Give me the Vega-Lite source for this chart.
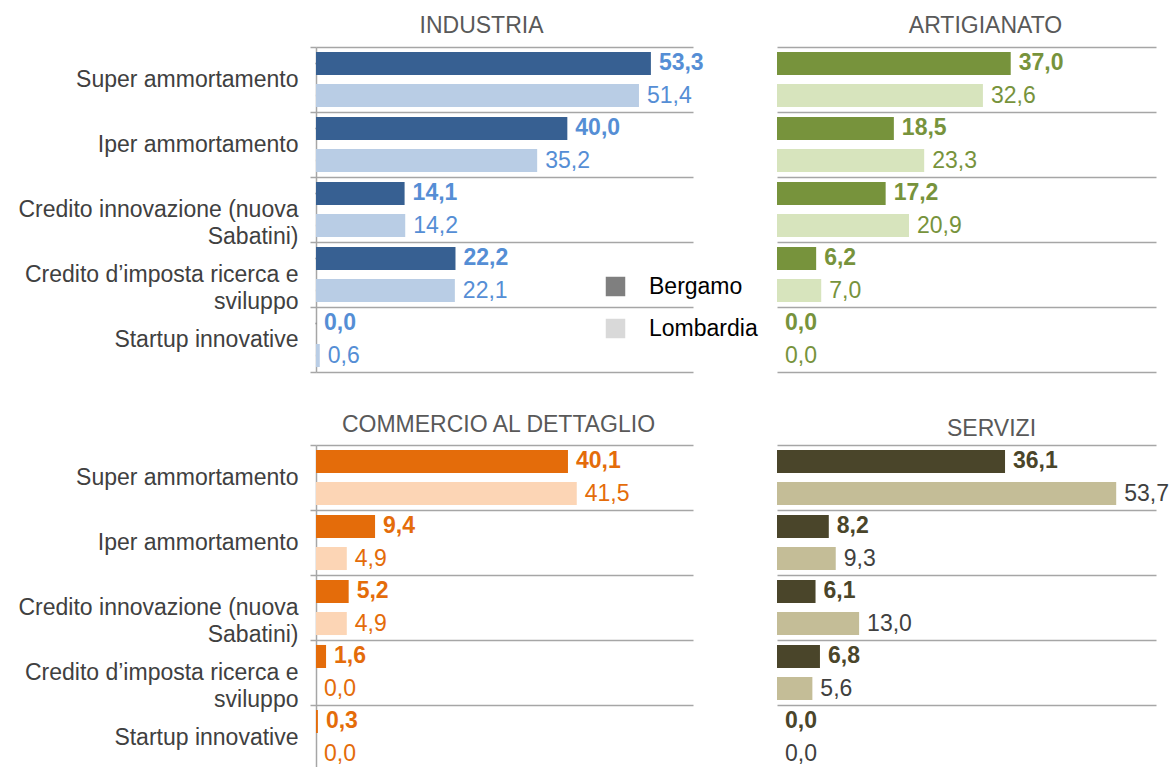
{
  "$schema": "https://vega.github.io/schema/vega-lite/v6.json",
  "padding": {"left": 17, "top": 15, "right": 5, "bottom": 0},
  "bounds": "flush",
  "columns": 2,
  "spacing": {"row": 73, "column": 84},
  "config": {
    "font": "Liberation Sans",
    "view": {"stroke": null},
    "locale": {"number": {"decimal": ",", "thousands": ".", "grouping": [3], "currency": ["€", ""]}},
    "title": {"font": "Liberation Sans", "fontSize": 23, "fontWeight": "normal", "color": "#595959", "baseline": "alphabetic", "anchor": "middle"},
    "axis": {"labelFont": "Liberation Sans"}
  },
  "datasets": {
    "d": [
      {"settore": "INDUSTRIA", "voce": "Super ammortamento", "serie": "Bergamo", "valore": 53.3},
      {"settore": "INDUSTRIA", "voce": "Super ammortamento", "serie": "Lombardia", "valore": 51.4},
      {"settore": "INDUSTRIA", "voce": "Iper ammortamento", "serie": "Bergamo", "valore": 40.0},
      {"settore": "INDUSTRIA", "voce": "Iper ammortamento", "serie": "Lombardia", "valore": 35.2},
      {"settore": "INDUSTRIA", "voce": "Credito innovazione (nuova Sabatini)", "serie": "Bergamo", "valore": 14.1},
      {"settore": "INDUSTRIA", "voce": "Credito innovazione (nuova Sabatini)", "serie": "Lombardia", "valore": 14.2},
      {"settore": "INDUSTRIA", "voce": "Credito d’imposta ricerca e sviluppo", "serie": "Bergamo", "valore": 22.2},
      {"settore": "INDUSTRIA", "voce": "Credito d’imposta ricerca e sviluppo", "serie": "Lombardia", "valore": 22.1},
      {"settore": "INDUSTRIA", "voce": "Startup innovative", "serie": "Bergamo", "valore": 0.0},
      {"settore": "INDUSTRIA", "voce": "Startup innovative", "serie": "Lombardia", "valore": 0.6},
      {"settore": "ARTIGIANATO", "voce": "Super ammortamento", "serie": "Bergamo", "valore": 37.0},
      {"settore": "ARTIGIANATO", "voce": "Super ammortamento", "serie": "Lombardia", "valore": 32.6},
      {"settore": "ARTIGIANATO", "voce": "Iper ammortamento", "serie": "Bergamo", "valore": 18.5},
      {"settore": "ARTIGIANATO", "voce": "Iper ammortamento", "serie": "Lombardia", "valore": 23.3},
      {"settore": "ARTIGIANATO", "voce": "Credito innovazione (nuova Sabatini)", "serie": "Bergamo", "valore": 17.2},
      {"settore": "ARTIGIANATO", "voce": "Credito innovazione (nuova Sabatini)", "serie": "Lombardia", "valore": 20.9},
      {"settore": "ARTIGIANATO", "voce": "Credito d’imposta ricerca e sviluppo", "serie": "Bergamo", "valore": 6.2},
      {"settore": "ARTIGIANATO", "voce": "Credito d’imposta ricerca e sviluppo", "serie": "Lombardia", "valore": 7.0},
      {"settore": "ARTIGIANATO", "voce": "Startup innovative", "serie": "Bergamo", "valore": 0.0},
      {"settore": "ARTIGIANATO", "voce": "Startup innovative", "serie": "Lombardia", "valore": 0.0},
      {"settore": "COMMERCIO AL DETTAGLIO", "voce": "Super ammortamento", "serie": "Bergamo", "valore": 40.1},
      {"settore": "COMMERCIO AL DETTAGLIO", "voce": "Super ammortamento", "serie": "Lombardia", "valore": 41.5},
      {"settore": "COMMERCIO AL DETTAGLIO", "voce": "Iper ammortamento", "serie": "Bergamo", "valore": 9.4},
      {"settore": "COMMERCIO AL DETTAGLIO", "voce": "Iper ammortamento", "serie": "Lombardia", "valore": 4.9},
      {"settore": "COMMERCIO AL DETTAGLIO", "voce": "Credito innovazione (nuova Sabatini)", "serie": "Bergamo", "valore": 5.2},
      {"settore": "COMMERCIO AL DETTAGLIO", "voce": "Credito innovazione (nuova Sabatini)", "serie": "Lombardia", "valore": 4.9},
      {"settore": "COMMERCIO AL DETTAGLIO", "voce": "Credito d’imposta ricerca e sviluppo", "serie": "Bergamo", "valore": 1.6},
      {"settore": "COMMERCIO AL DETTAGLIO", "voce": "Credito d’imposta ricerca e sviluppo", "serie": "Lombardia", "valore": 0.0},
      {"settore": "COMMERCIO AL DETTAGLIO", "voce": "Startup innovative", "serie": "Bergamo", "valore": 0.3},
      {"settore": "COMMERCIO AL DETTAGLIO", "voce": "Startup innovative", "serie": "Lombardia", "valore": 0.0},
      {"settore": "SERVIZI", "voce": "Super ammortamento", "serie": "Bergamo", "valore": 36.1},
      {"settore": "SERVIZI", "voce": "Super ammortamento", "serie": "Lombardia", "valore": 53.7},
      {"settore": "SERVIZI", "voce": "Iper ammortamento", "serie": "Bergamo", "valore": 8.2},
      {"settore": "SERVIZI", "voce": "Iper ammortamento", "serie": "Lombardia", "valore": 9.3},
      {"settore": "SERVIZI", "voce": "Credito innovazione (nuova Sabatini)", "serie": "Bergamo", "valore": 6.1},
      {"settore": "SERVIZI", "voce": "Credito innovazione (nuova Sabatini)", "serie": "Lombardia", "valore": 13.0},
      {"settore": "SERVIZI", "voce": "Credito d’imposta ricerca e sviluppo", "serie": "Bergamo", "valore": 6.8},
      {"settore": "SERVIZI", "voce": "Credito d’imposta ricerca e sviluppo", "serie": "Lombardia", "valore": 5.6},
      {"settore": "SERVIZI", "voce": "Startup innovative", "serie": "Bergamo", "valore": 0.0},
      {"settore": "SERVIZI", "voce": "Startup innovative", "serie": "Lombardia", "valore": 0.0}
    ]
  },
  "resolve": {"scale": {"color": "independent", "fill": "independent", "x": "independent", "y": "independent", "yOffset": "independent"}, "legend": {"fill": "independent", "color": "independent"}},
  "concat": [
    {
      "width": 377, "height": 325,
      "title": {"text": "INDUSTRIA", "dx": -23, "offset": -2},
      "data": {"name": "d"},
      "transform": [{"filter": "datum.settore == 'INDUSTRIA'"}],
      "encoding": {
        "y": {"field": "voce", "type": "nominal", "sort": ["Super ammortamento", "Iper ammortamento", "Credito innovazione (nuova Sabatini)", "Credito d’imposta ricerca e sviluppo", "Startup innovative"], "scale": {"paddingInner": 0, "paddingOuter": 0},
          "axis": {"title": null, "tickBand": "extent", "grid": true, "gridColor": "#A6A6A6", "gridWidth": 1.5, "domain": true, "domainColor": "#A6A6A6", "domainWidth": 1.5, "ticks": true, "tickSize": 6, "tickColor": "#A6A6A6", "tickWidth": 1.5, "labelPadding": 12, "labelFontSize": 23, "labelColor": "#404040", "labelAlign": "right", "labelBaseline": "middle", "labelLineHeight": 27, "labelLimit": 400,
            "labelExpr": "datum.value == 'Credito innovazione (nuova Sabatini)' ? ['Credito innovazione (nuova', 'Sabatini)'] : datum.value == 'Credito d’imposta ricerca e sviluppo' ? ['Credito d’imposta ricerca e', 'sviluppo'] : datum.value"}},
        "yOffset": {"field": "serie", "type": "nominal", "sort": ["Bergamo", "Lombardia"], "scale": {"paddingInner": 0.28, "paddingOuter": 0.155}},
        "x": {"field": "valore", "type": "quantitative", "scale": {"domain": [0, 60]}, "axis": null}
      },
      "layer": [
        {"mark": {"type": "point", "shape": "square", "filled": true, "size": 2}, "encoding": {"x": {"datum": 0, "type": "quantitative"}, "fill": {"field": "serie", "type": "nominal", "scale": {"domain": ["Bergamo", "Lombardia"], "range": ["#7F7F7F", "#D9D9D9"]}, "legend": {"title": null, "orient": "none", "legendX": 288, "legendY": 228, "padding": 0, "symbolType": "square", "symbolSize": 380, "symbolOpacity": 1, "symbolStrokeWidth": 0, "labelFontSize": 23, "labelColor": "#000000", "labelFont": "Liberation Sans", "labelOffset": 22, "rowPadding": 18, "labelBaseline": "middle"}}}},
        {"mark": {"type": "bar"}, "encoding": {"color": {"field": "serie", "type": "nominal", "scale": {"domain": ["Bergamo", "Lombardia"], "range": ["#376092", "#B9CDE5"]}, "legend": null}}},
        {"transform": [{"filter": "datum.serie == 'Bergamo'"}], "mark": {"type": "text", "align": "left", "baseline": "middle", "dx": 8, "fontSize": 23, "fontWeight": "bold", "color": "#558ED5"}, "encoding": {"text": {"field": "valore", "type": "quantitative", "format": ".1f"}}},
        {"transform": [{"filter": "datum.serie == 'Lombardia'"}], "mark": {"type": "text", "align": "left", "baseline": "middle", "dx": 8, "fontSize": 23, "fontWeight": "normal", "color": "#558ED5"}, "encoding": {"text": {"field": "valore", "type": "quantitative", "format": ".1f"}}}
      ]
    },
    {
      "width": 379, "height": 325,
      "title": {"text": "ARTIGIANATO", "dx": 19, "offset": 9},
      "data": {"name": "d"},
      "transform": [{"filter": "datum.settore == 'ARTIGIANATO'"}],
      "encoding": {
        "y": {"field": "voce", "type": "nominal", "sort": ["Super ammortamento", "Iper ammortamento", "Credito innovazione (nuova Sabatini)", "Credito d’imposta ricerca e sviluppo", "Startup innovative"], "scale": {"paddingInner": 0, "paddingOuter": 0},
          "axis": {"title": null, "tickBand": "extent", "grid": true, "gridColor": "#A6A6A6", "gridWidth": 1.5, "domain": false, "ticks": false, "labels": false}},
        "yOffset": {"field": "serie", "type": "nominal", "sort": ["Bergamo", "Lombardia"], "scale": {"paddingInner": 0.28, "paddingOuter": 0.155}},
        "x": {"field": "valore", "type": "quantitative", "scale": {"domain": [0, 60]}, "axis": null}
      },
      "layer": [
        {"mark": {"type": "bar"}, "encoding": {"color": {"field": "serie", "type": "nominal", "scale": {"domain": ["Bergamo", "Lombardia"], "range": ["#77933C", "#D7E4BD"]}, "legend": null}}},
        {"transform": [{"filter": "datum.serie == 'Bergamo'"}], "mark": {"type": "text", "align": "left", "baseline": "middle", "dx": 8, "fontSize": 23, "fontWeight": "bold", "color": "#77933C"}, "encoding": {"text": {"field": "valore", "type": "quantitative", "format": ".1f"}}},
        {"transform": [{"filter": "datum.serie == 'Lombardia'"}], "mark": {"type": "text", "align": "left", "baseline": "middle", "dx": 8, "fontSize": 23, "fontWeight": "normal", "color": "#77933C"}, "encoding": {"text": {"field": "valore", "type": "quantitative", "format": ".1f"}}}
      ]
    },
    {
      "width": 377, "height": 325,
      "title": {"text": "COMMERCIO AL DETTAGLIO", "dx": -6, "offset": -3},
      "data": {"name": "d"},
      "transform": [{"filter": "datum.settore == 'COMMERCIO AL DETTAGLIO'"}],
      "encoding": {
        "y": {"field": "voce", "type": "nominal", "sort": ["Super ammortamento", "Iper ammortamento", "Credito innovazione (nuova Sabatini)", "Credito d’imposta ricerca e sviluppo", "Startup innovative"], "scale": {"paddingInner": 0, "paddingOuter": 0},
          "axis": {"title": null, "tickBand": "extent", "grid": true, "gridColor": "#A6A6A6", "gridWidth": 1.5, "domain": true, "domainColor": "#A6A6A6", "domainWidth": 1.5, "ticks": true, "tickSize": 6, "tickColor": "#A6A6A6", "tickWidth": 1.5, "labelPadding": 12, "labelFontSize": 23, "labelColor": "#404040", "labelAlign": "right", "labelBaseline": "middle", "labelLineHeight": 27, "labelLimit": 400,
            "labelExpr": "datum.value == 'Credito innovazione (nuova Sabatini)' ? ['Credito innovazione (nuova', 'Sabatini)'] : datum.value == 'Credito d’imposta ricerca e sviluppo' ? ['Credito d’imposta ricerca e', 'sviluppo'] : datum.value"}},
        "yOffset": {"field": "serie", "type": "nominal", "sort": ["Bergamo", "Lombardia"], "scale": {"paddingInner": 0.28, "paddingOuter": 0.155}},
        "x": {"field": "valore", "type": "quantitative", "scale": {"domain": [0, 60]}, "axis": null}
      },
      "layer": [
        {"mark": {"type": "bar"}, "encoding": {"color": {"field": "serie", "type": "nominal", "scale": {"domain": ["Bergamo", "Lombardia"], "range": ["#E46C0A", "#FCD5B5"]}, "legend": null}}},
        {"transform": [{"filter": "datum.serie == 'Bergamo'"}], "mark": {"type": "text", "align": "left", "baseline": "middle", "dx": 8, "fontSize": 23, "fontWeight": "bold", "color": "#E46C0A"}, "encoding": {"text": {"field": "valore", "type": "quantitative", "format": ".1f"}}},
        {"transform": [{"filter": "datum.serie == 'Lombardia'"}], "mark": {"type": "text", "align": "left", "baseline": "middle", "dx": 8, "fontSize": 23, "fontWeight": "normal", "color": "#E46C0A"}, "encoding": {"text": {"field": "valore", "type": "quantitative", "format": ".1f"}}}
      ]
    },
    {
      "width": 379, "height": 325,
      "title": {"text": "SERVIZI", "dx": 25, "offset": 4},
      "data": {"name": "d"},
      "transform": [{"filter": "datum.settore == 'SERVIZI'"}],
      "encoding": {
        "y": {"field": "voce", "type": "nominal", "sort": ["Super ammortamento", "Iper ammortamento", "Credito innovazione (nuova Sabatini)", "Credito d’imposta ricerca e sviluppo", "Startup innovative"], "scale": {"paddingInner": 0, "paddingOuter": 0},
          "axis": {"title": null, "tickBand": "extent", "grid": true, "gridColor": "#A6A6A6", "gridWidth": 1.5, "domain": false, "ticks": false, "labels": false}},
        "yOffset": {"field": "serie", "type": "nominal", "sort": ["Bergamo", "Lombardia"], "scale": {"paddingInner": 0.28, "paddingOuter": 0.155}},
        "x": {"field": "valore", "type": "quantitative", "scale": {"domain": [0, 60]}, "axis": null}
      },
      "layer": [
        {"mark": {"type": "bar"}, "encoding": {"color": {"field": "serie", "type": "nominal", "scale": {"domain": ["Bergamo", "Lombardia"], "range": ["#4A452A", "#C4BD97"]}, "legend": null}}},
        {"transform": [{"filter": "datum.serie == 'Bergamo'"}], "mark": {"type": "text", "align": "left", "baseline": "middle", "dx": 8, "fontSize": 23, "fontWeight": "bold", "color": "#4A452A"}, "encoding": {"text": {"field": "valore", "type": "quantitative", "format": ".1f"}}},
        {"transform": [{"filter": "datum.serie == 'Lombardia'"}], "mark": {"type": "text", "align": "left", "baseline": "middle", "dx": 8, "fontSize": 23, "fontWeight": "normal", "color": "#404040"}, "encoding": {"text": {"field": "valore", "type": "quantitative", "format": ".1f"}}}
      ]
    }
  ]
}
